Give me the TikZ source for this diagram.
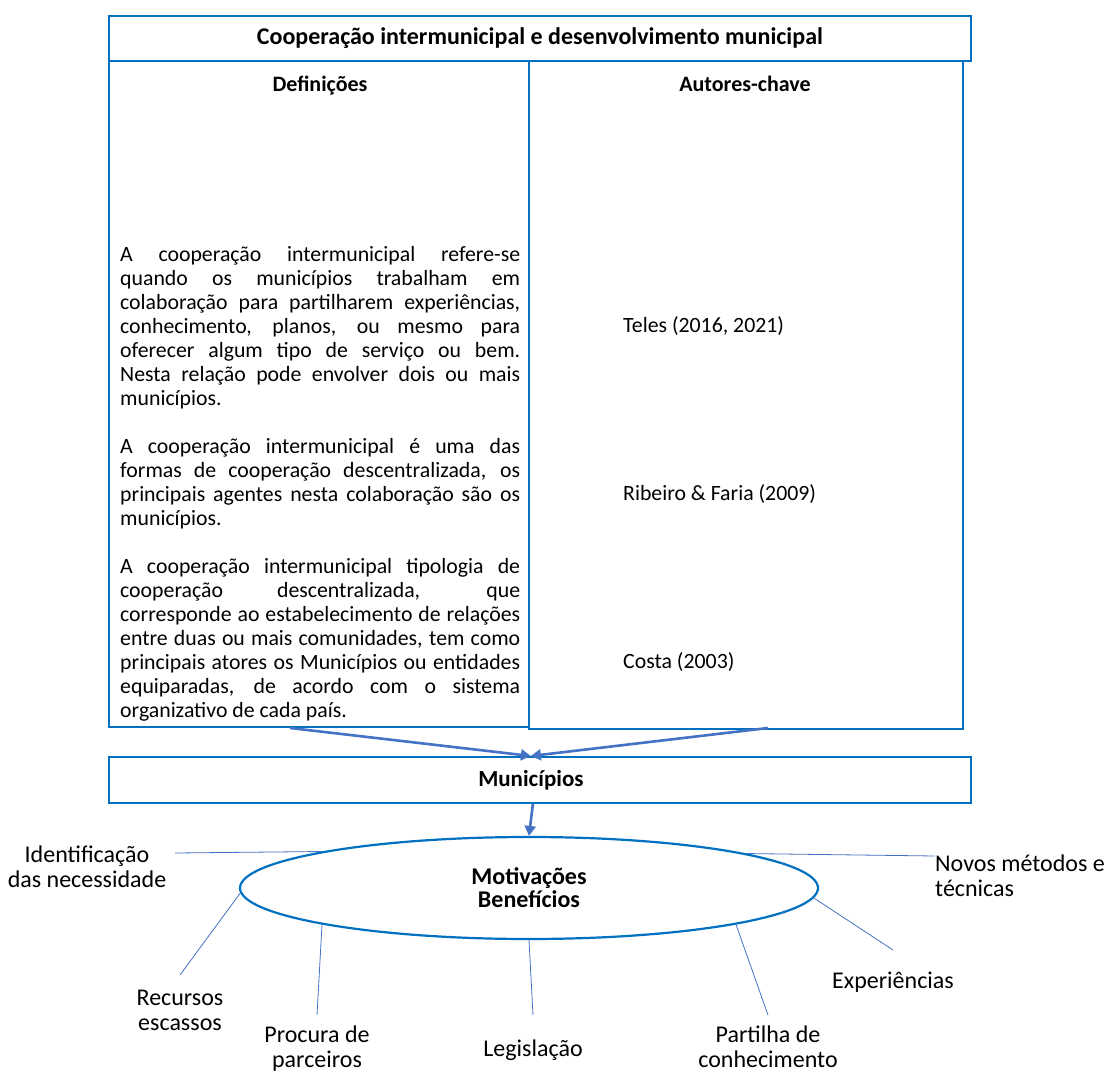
\documentclass[tikz,border=0pt]{standalone}
\usepackage{fontspec}
\setmainfont{Carlito}
\usetikzlibrary{arrows.meta, positioning, shapes.geometric, calc}
\definecolor{boxblue}{RGB}{0,112,192}
\definecolor{arrowblue}{RGB}{68,114,196}
\hyphenpenalty=10000
\exhyphenpenalty=10000
\tolerance=10000

\begin{document}
\begin{tikzpicture}[x=1pt, y=-1pt,
  every node/.style={font=\fontsize{24}{25}\selectfont, inner sep=0pt},
  box/.style={draw=boxblue, line width=1.8pt, rectangle, anchor=north west},
  head/.style={font=\fontsize{22}{24}\selectfont\bfseries},
  para/.style={text width=400pt, align=justify, anchor=north west,
               font=\fontsize{21.8}{24}\selectfont},
  author/.style={anchor=west, font=\fontsize{21.8}{24}\selectfont},
  flow/.style={draw=arrowblue, line width=2.6pt, -{Triangle[length=10pt,width=11pt]}},
  spoke/.style={draw=arrowblue, line width=0.8pt},
  lbl/.style={align=center}
]
\useasboundingbox (0,0) rectangle (1109,1075);

%--- Top table ---
\node[box, minimum width=862pt, minimum height=45pt] (title) at (108,15) {};
\node[head, font=\fontsize{24}{25}\selectfont\bfseries] at (title.center) {Cooperação intermunicipal e desenvolvimento municipal};
\node[box, minimum width=420pt, minimum height=666pt] (defs) at (108,60) {};
\node[box, minimum width=434pt, minimum height=668pt] (auts) at (528,60) {};
\node[head, anchor=base] at (320,92) {Definições};
\node[head, anchor=base] at (745,92) {Autores-chave};

% definitions
\node[para] (txt) at (120,246) {A cooperação intermunicipal refere-se\linebreak
quando os municípios trabalham em\linebreak
colaboração para partilharem experiências,\linebreak
conhecimento, planos, ou mesmo para\linebreak
oferecer algum tipo de serviço ou bem.\linebreak
Nesta relação pode envolver dois ou mais\linebreak
municípios.\par\vspace{24pt}
A cooperação intermunicipal é uma das\linebreak
formas de cooperação descentralizada, os\linebreak
principais agentes nesta colaboração são os\linebreak
municípios.\par\vspace{24pt}
A cooperação intermunicipal tipologia de\linebreak
cooperação descentralizada, que\linebreak
corresponde ao estabelecimento de relações\linebreak
entre duas ou mais comunidades, tem como\linebreak
principais atores os Municípios ou entidades\linebreak
equiparadas, de acordo com o sistema\linebreak
organizativo de cada país.};

% key authors
\node[author] (a1) at (623,326) {Teles (2016, 2021)};
\node[author] (a2) at (623,494) {Ribeiro \& Faria (2009)};
\node[author] (a3) at (623,662) {Costa (2003)};

%--- Municipios ---
\node[box, minimum width=862pt, minimum height=46pt] (mun) at (108,756) {};
\node[head, font=\fontsize{23}{24}\selectfont\bfseries] at ([xshift=-9pt]mun.center) {Municípios};

\coordinate (s-def) at (290,728);
\coordinate (s-aut) at (768,728);
\draw[flow] (s-def) -- ([xshift=-9pt]mun.north);
\draw[flow] (s-aut) -- ([xshift=-9pt]mun.north);

%--- Motivations ---
\node[ellipse, draw=boxblue, line width=2.2pt, minimum width=578pt, minimum height=102pt,
      align=center, font=\fontsize{24}{23}\selectfont\bfseries] (mot) at (529,888)
      {Motivações\\Benefícios};
\draw[flow] ([xshift=-7pt]mun.south) -- (mot.north);

% labels round the ellipse
\node[lbl] (idn) at (87,867) {Identificação\\das necessidade};
\node[lbl] (rec) at (180,1010) {Recursos\\escassos};
\node[lbl] (pro) at (317,1049) {Procura de\\parceiros};
\node[lbl] (leg) at (533,1050) {Legislação};
\node[lbl] (par) at (768,1047) {Partilha de\\conhecimento};
\node[lbl] (exp) at (893,982) {Experiências};
\node[align=left, anchor=west] (nov) at (935,876) {Novos métodos e\\técnicas};

% spoke ends
\coordinate (e-idn) at (175,853);
\coordinate (e-rec) at (180,975);
\coordinate (e-pro) at (317,1015);
\coordinate (e-leg) at (533,1015);
\coordinate (e-par) at (768,1015);
\coordinate (e-exp) at (893,950);
\coordinate (e-nov) at (935,856);

\draw[spoke] (mot.170.5) -- (e-idn);
\draw[spoke] (mot.181) -- (e-rec);
\draw[spoke] (mot.190) -- (e-pro);
\draw[spoke] (mot.south) -- (e-leg);
\draw[spoke] (mot.350) -- (e-par);
\draw[spoke] (mot.358) -- (e-exp);
\draw[spoke] (mot.9.5) -- (e-nov);

\end{tikzpicture}
\end{document}
